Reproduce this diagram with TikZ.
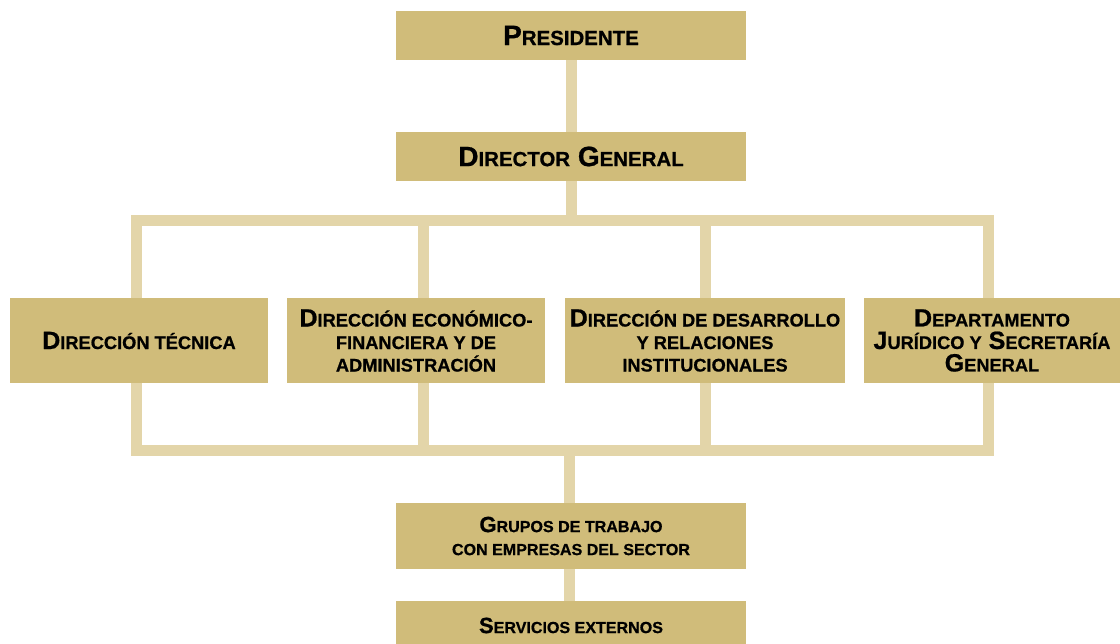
\documentclass[tikz,border=0pt]{standalone}
\usepackage{fontspec}
\setmainfont{Liberation Sans}[BoldFeatures={FakeBold=0.8}]
\usetikzlibrary{positioning, backgrounds}

\definecolor{boxgold}{HTML}{D0BC7A}
\definecolor{linegold}{HTML}{E3D5A9}

\makeatletter
\newcommand\lo[1]{{\fontsize{\fpeval{0.73*\f@size}}{\f@baselineskip}\selectfont #1}}
\makeatother

\tikzset{
  orgbox/.style={fill=boxgold, inner sep=0pt, align=center, text=black},
  topbox/.style={orgbox, minimum width=350pt, minimum height=49pt, font=\fontsize{28}{30}\selectfont\bfseries},
  unitbox/.style={orgbox, minimum height=85pt, font=\fontsize{25}{22.5}\selectfont\bfseries},
  lowbox/.style={orgbox, minimum width=350pt, font=\fontsize{22}{23}\selectfont\bfseries},
  conn/.style={draw=linegold, line width=11pt, line join=miter}
}

\begin{document}
\begin{tikzpicture}[x=1pt, y=-1pt]
\useasboundingbox (0,0) rectangle (1120,644);

\node[topbox] (pres) at (571, 35.5) {P\lo{RESIDENTE}};
\node[topbox] (dg) at (571, 156.5) {D\lo{IRECTOR} G\lo{ENERAL}};

\node[unitbox, minimum width=258pt] (d1) at (139, 340.5) {D\lo{IRECCIÓN TÉCNICA}};
\node[unitbox, minimum width=258pt] (d2) at (416, 340.5) {D\lo{IRECCIÓN ECONÓMICO-}\\\lo{FINANCIERA Y DE}\\\lo{ADMINISTRACIÓN}};
\node[unitbox, minimum width=280pt] (d3) at (705, 340.5) {D\lo{IRECCIÓN DE DESARROLLO}\\\lo{Y RELACIONES}\\\lo{INSTITUCIONALES}};
\node[unitbox, minimum width=256pt] (d4) at (992, 340.5) {D\lo{EPARTAMENTO}\\J\lo{URÍDICO Y} S\lo{ECRETARÍA}\\G\lo{ENERAL}};

\node[lowbox, minimum height=66pt] (grp) at (571, 536) {G\lo{RUPOS DE TRABAJO}\\\lo{CON EMPRESAS DEL SECTOR}};
\node[lowbox, minimum height=49pt] (srv) at (571, 625.5) {S\lo{ERVICIOS EXTERNOS}};

\coordinate (tbar) at (0, 220.5);
\coordinate (bbar) at (0, 450.5);

\begin{scope}[on background layer]
\draw[conn] (pres) -- (dg) -- (dg |- tbar);
\draw[conn] ([xshift=-2.5pt]d1.center |- tbar) rectangle ([xshift=-4pt]d4.center |- bbar);
\foreach \n/\dx in {d2/7, d3/0.5}
  \draw[conn] ([xshift=\dx pt]\n.center |- tbar) -- ([xshift=\dx pt]\n.center |- bbar);
\draw[conn] ([xshift=-2pt]grp.center |- bbar) -- ([xshift=-2pt]grp.center) -- ([xshift=-2pt]srv.center);
\end{scope}

\end{tikzpicture}
\end{document}
